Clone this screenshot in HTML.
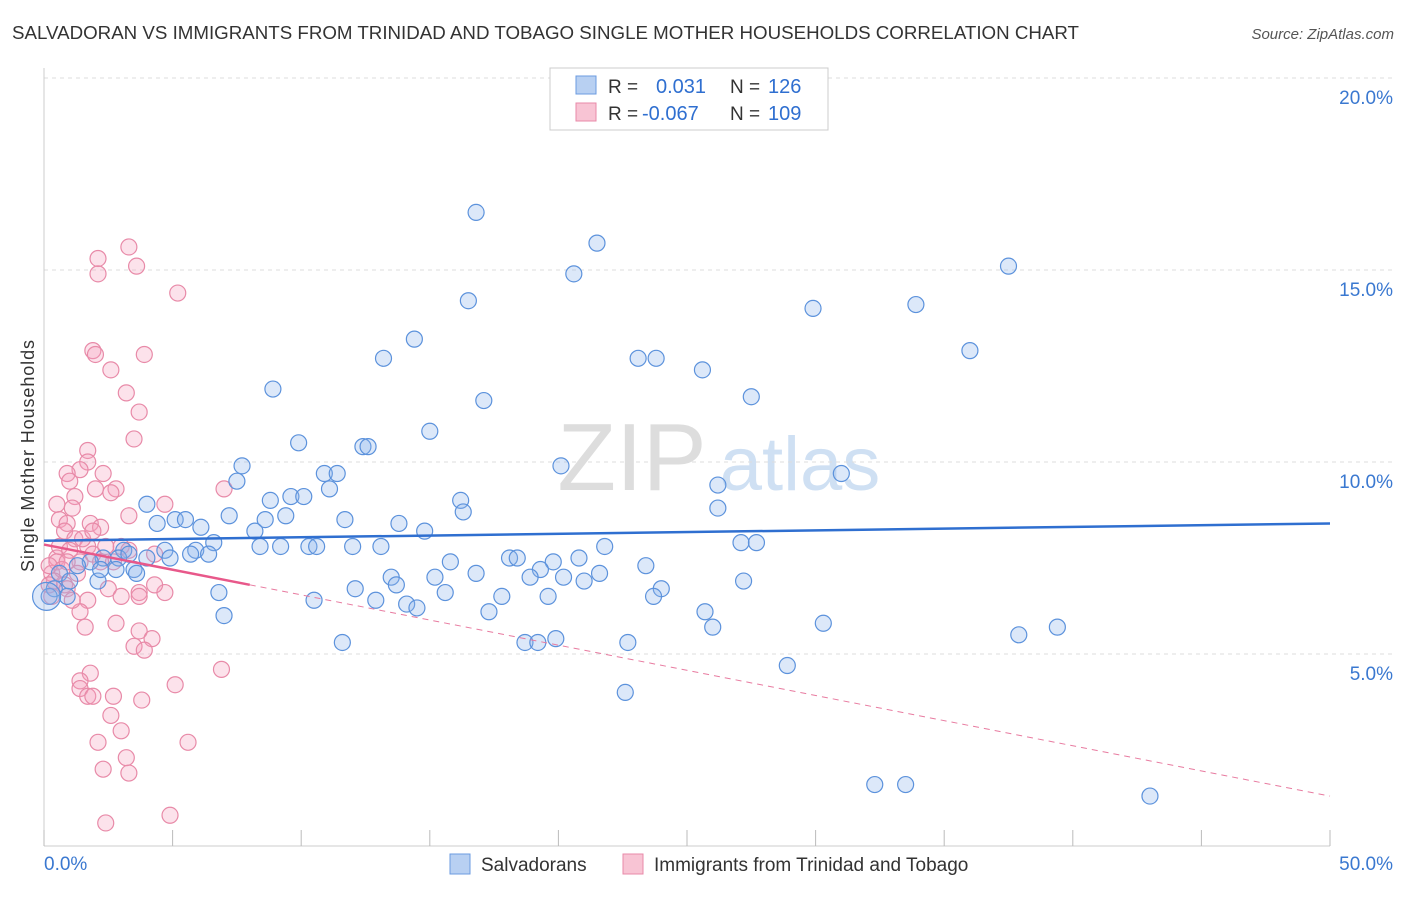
<!DOCTYPE html>
<html><head><meta charset="utf-8"><style>
body{margin:0;background:#fff;font-family:"Liberation Sans",sans-serif;}
svg text{font-family:"Liberation Sans",sans-serif;}
</style></head><body>
<svg id="chart" width="1406" height="892">
<text x="12" y="39" font-size="18" fill="#333" textLength="1067" lengthAdjust="spacingAndGlyphs">SALVADORAN VS IMMIGRANTS FROM TRINIDAD AND TOBAGO SINGLE MOTHER HOUSEHOLDS CORRELATION CHART</text>
<text x="1394" y="39" font-size="15" fill="#555" font-style="italic" text-anchor="end">Source: ZipAtlas.com</text>
<text x="34" y="456" font-size="18" fill="#333" transform="rotate(-90 34 456)" text-anchor="middle" textLength="232">Single Mother Households</text>
<g><text x="632" y="490" font-size="96" fill="#ddd" text-anchor="middle" font-family="Liberation Serif">ZIP</text><text x="800" y="490" font-size="76" fill="#cfe0f3" text-anchor="middle">atlas</text></g>
<g id="grid"></g><g id="axes"></g><g id="pts"></g><g id="trend"></g>
<g>
<rect x="550" y="68" width="278" height="62" fill="#fff" stroke="#ccc"/>
<rect x="576" y="76" width="20" height="18" fill="#b8d0f2" stroke="#6b9be0"/>
<rect x="576" y="103" width="20" height="18" fill="#f8c4d4" stroke="#e88aa8"/>
<text x="608" y="93" font-size="19" fill="#333">R =</text><text x="656" y="93" font-size="20" fill="#2f6fd0">0.031</text>
<text x="730" y="93" font-size="19" fill="#333">N =</text><text x="768" y="93" font-size="20" fill="#2f6fd0">126</text>
<text x="608" y="120" font-size="19" fill="#333">R =</text><text x="642" y="120" font-size="20" fill="#2f6fd0">-0.067</text>
<text x="730" y="120" font-size="19" fill="#333">N =</text><text x="768" y="120" font-size="20" fill="#2f6fd0">109</text>
</g>
<g>
<rect x="450" y="854" width="20" height="20" fill="#b8d0f2" stroke="#6b9be0"/>
<text x="481" y="871" font-size="19" fill="#333">Salvadorans</text>
<rect x="623" y="854" width="20" height="20" fill="#f8c4d4" stroke="#e88aa8"/>
<text x="654" y="871" font-size="19" fill="#333">Immigrants from Trinidad and Tobago</text>
</g>
</svg>
<script>
const yTicks=[5,10,15,20];
const xTickLabels=["0.0%","50.0%"];
const blueX=[16.8,21.5,20.6,37.5,16.5,29.9,33.9,14.4,13.2,23.1,23.8,36.0,25.6,8.9,17.1,27.5,15.0,9.9,12.4,12.6,20.1,31.0,7.7,10.9,11.4,7.5,11.1,16.2,16.3,26.2,26.2,4.0,8.8,9.6,10.1,7.2,8.6,9.4,11.7,13.8,4.4,5.1,5.5,6.1,14.8,8.2,6.6,27.1,27.7,3.1,4.7,5.9,8.4,9.2,10.3,10.6,12.0,13.1,21.8,2.3,2.9,3.3,4.0,5.7,6.4,4.9,15.8,18.1,18.4,19.8,20.8,23.4,2.8,3.5,3.6,16.8,19.3,21.6,13.5,15.2,18.9,20.2,21.0,27.2,2.1,24.0,12.1,13.7,15.6,23.7,6.8,10.5,12.9,14.1,14.5,17.8,19.6,17.3,25.7,26.0,30.3,37.9,39.4,7.0,11.6,18.7,19.2,19.9,22.7,28.9,22.6,32.3,33.5,43.0,0.6,1.0,0.4,0.9,1.8,2.2,1.3,0.2];
const blueY=[16.5,15.7,14.9,15.1,14.2,14.0,14.1,13.2,12.7,12.7,12.7,12.9,12.4,11.9,11.6,11.7,10.8,10.5,10.4,10.4,9.9,9.7,9.9,9.7,9.7,9.5,9.3,9.0,8.7,9.4,8.8,8.9,9.0,9.1,9.1,8.6,8.5,8.6,8.5,8.4,8.4,8.5,8.5,8.3,8.2,8.2,7.9,7.9,7.9,7.7,7.7,7.7,7.8,7.8,7.8,7.8,7.8,7.8,7.8,7.5,7.5,7.6,7.5,7.6,7.6,7.5,7.4,7.5,7.5,7.4,7.5,7.3,7.2,7.2,7.1,7.1,7.2,7.1,7.0,7.0,7.0,7.0,6.9,6.9,6.9,6.7,6.7,6.8,6.6,6.5,6.6,6.4,6.4,6.3,6.2,6.5,6.5,6.1,6.1,5.7,5.8,5.5,5.7,6.0,5.3,5.3,5.3,5.4,5.3,4.7,4.0,1.6,1.6,1.3,7.1,6.9,6.7,6.5,7.4,7.2,7.3,6.5];
const pinkX=[3.3,2.1,2.1,3.6,5.2,1.9,2.0,3.9,2.6,3.2,3.7,3.5,1.7,1.7,1.4,0.9,1.0,2.3,2.0,2.8,2.6,7.0,4.7,0.5,1.2,1.1,0.6,0.9,1.8,3.3,0.8,2.2,1.2,3.0,1.7,2.4,3.3,4.3,0.5,1.4,1.9,2.7,1.3,0.3,0.8,2.5,3.7,4.7,4.3,1.7,3.0,1.4,3.7,1.6,2.8,3.7,4.2,3.5,3.9,6.9,1.8,1.4,1.4,5.1,1.7,2.7,1.9,3.8,2.6,3.0,2.1,5.6,3.2,2.3,3.3,2.4,4.9,0.5,0.2,0.7,0.4,0.9,1.1,0.2,0.3,0.6,1.0,1.5,1.9,2.2,0.9];
const pinkY=[15.6,15.3,14.9,15.1,14.4,12.9,12.8,12.8,12.4,11.8,11.3,10.6,10.3,10.0,9.8,9.7,9.5,9.7,9.3,9.3,9.2,9.3,8.9,8.9,9.1,8.8,8.5,8.4,8.4,8.6,8.2,8.3,8.0,7.8,7.8,7.8,7.7,7.6,7.5,7.4,7.6,7.4,7.1,7.1,6.8,6.7,6.6,6.6,6.8,6.4,6.5,6.1,6.5,5.7,5.8,5.6,5.4,5.2,5.1,4.6,4.5,4.3,4.1,4.2,3.9,3.9,3.9,3.8,3.4,3.0,2.7,2.7,2.3,2.0,1.9,0.6,0.8,7.4,7.3,7.2,6.9,6.7,6.4,6.8,6.5,7.8,7.7,8.0,8.2,7.4,7.4];
const blueTrend=[7.95,8.4];
const pinkTrend=[7.85,1.3];
const pinkSolidEnd=8;
const NS="http://www.w3.org/2000/svg";
const X0=44,X1=1330,Y0=846,PX=(X1-X0)/50,PY=192/5;
const sx=v=>X0+v*PX, sy=v=>Y0-v*PY;
function mk(tag,attrs,parent){const e=document.createElementNS(NS,tag);for(const k in attrs)e.setAttribute(k,attrs[k]);parent.appendChild(e);return e;}
const grid=document.getElementById('grid'),axes=document.getElementById('axes');
yTicks.forEach(t=>{
 const l=mk('line',{x1:X0,y1:sy(t),x2:1394,y2:sy(t),stroke:'#ddd','stroke-dasharray':'4,4'},grid);
 
 
 const tx=mk('text',{x:1393,y:sy(t)+26,'font-size':19,fill:'#3a78d0','text-anchor':'end'},axes);
 tx.textContent=t.toFixed(1)+'%';
 
 
});
mk('line',{x1:X0,y1:68,x2:X0,y2:Y0,stroke:'#ccc'},axes);
mk('line',{x1:X0,y1:Y0,x2:X1,y2:Y0,stroke:'#ccc'},axes);
for(let i=0;i<=10;i++){const t=mk('line',{x1:sx(i*5),y1:Y0-16,x2:sx(i*5),y2:Y0,stroke:'#bbb'},axes);}
const xl0=mk('text',{x:44,y:870,'font-size':19,fill:'#3a78d0'},axes);xl0.textContent=xTickLabels[0];


const xl1=mk('text',{x:1393,y:870,'font-size':19,fill:'#3a78d0','text-anchor':'end'},axes);xl1.textContent=xTickLabels[1];


const pts=document.getElementById('pts');
pinkX.forEach((v,i)=>{const c=mk('circle',{cx:sx(v),cy:sy(pinkY[i]),r:8,fill:'rgba(244,160,188,0.3)',stroke:'#e88aa8','stroke-width':1.2},pts);
 
 });
blueX.forEach((v,i)=>{const c=mk('circle',{cx:sx(v),cy:sy(blueY[i]),r:8,fill:'rgba(140,178,235,0.3)',stroke:'#5c92dc','stroke-width':1.2},pts);
 
 });
const big=mk('circle',{cx:sx(0.1),cy:sy(6.5),r:14,fill:'rgba(140,178,235,0.3)',stroke:'#5c92dc','stroke-width':1.2},pts);


const tr=document.getElementById('trend');
const bt=mk('line',{x1:sx(0),y1:sy(blueTrend[0]),x2:sx(50),y2:sy(blueTrend[1]),stroke:'#2f6fd0','stroke-width':2.5},tr);


const pAt=x=>pinkTrend[0]+(pinkTrend[1]-pinkTrend[0])*x/50;
const pd=mk('line',{x1:sx(pinkSolidEnd),y1:sy(pAt(pinkSolidEnd)),x2:sx(50),y2:sy(pinkTrend[1]),stroke:'#e87ba0','stroke-width':1,'stroke-dasharray':'6,5'},tr);


const ps=mk('line',{x1:sx(0),y1:sy(pinkTrend[0]),x2:sx(pinkSolidEnd),y2:sy(pAt(pinkSolidEnd)),stroke:'#e8588a','stroke-width':2.5},tr);


</script>
</body></html>
